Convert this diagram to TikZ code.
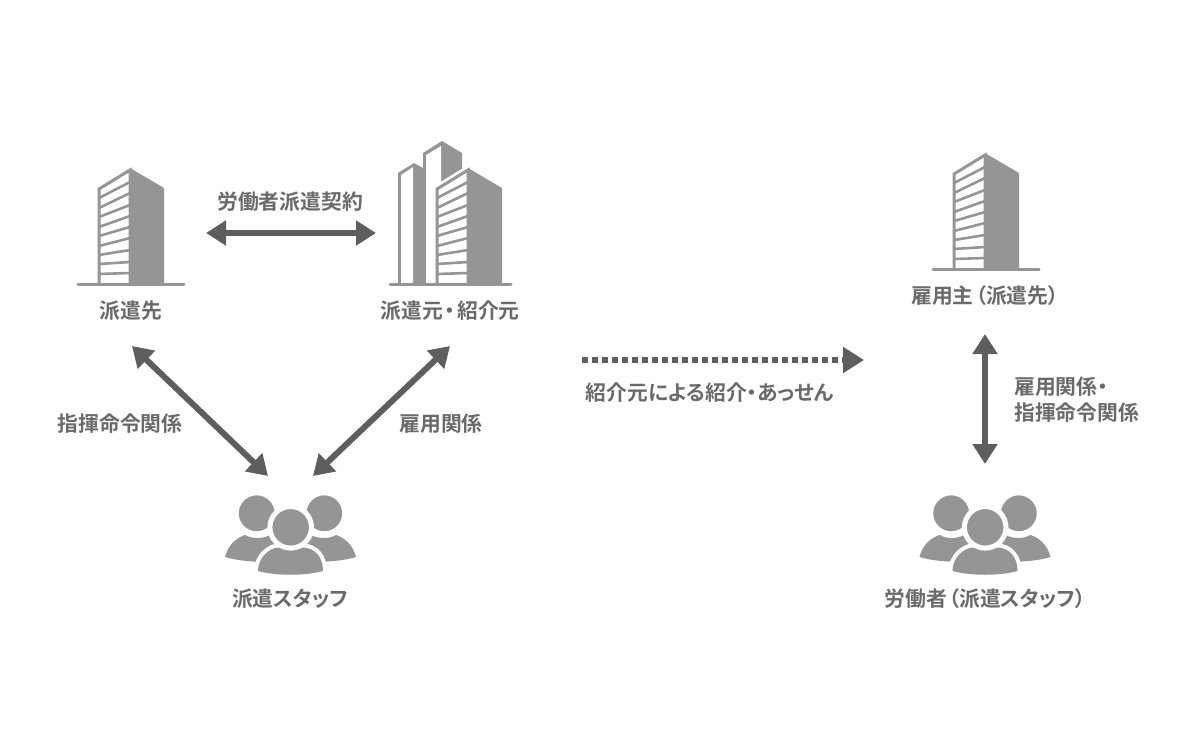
\documentclass[tikz,border=0pt]{standalone}
\usepackage{fontspec}
\usetikzlibrary{arrows.meta}
\setmainfont[RawFeature=+palt]{Noto Sans CJK JP Bold}
\definecolor{bgray}{HTML}{959596}
\definecolor{agray}{HTML}{5E5E5F}
\definecolor{tgray}{HTML}{6A6A6B}
\tikzset{
  x=1pt,y=-1pt,
  lbl/.style={text=tgray,font=\fontsize{20.8}{26}\selectfont,inner sep=0pt},
  dbl/.style={agray,line width=6pt,{Triangle[length=20pt,width=24pt]}-{Triangle[length=20pt,width=24pt]}},
  dotted arrow/.style={agray,line width=6pt,dash pattern=on 6pt off 4pt,-{Triangle[length=21pt,width=25pt]}},
  face/.style={fill=bgray,draw=none},
  slat/.style={bgray,line width=2.6pt},
  ground/.style={bgray,line width=3pt,line cap=round}
}
\newcommand{\tower}{%
  \fill[bgray] (130,168) -- (164,188) -- (164,284) -- (130,284) -- cycle;
  \draw[bgray,line width=3pt,line join=miter] (99,284) -- (99,189) -- (130,170) -- (130,284);
  \foreach \l/\r in {198/182,208/193,217/205,227/216,236/227,246/238,255/250,264/262,274/273}
    \draw[slat] (99,\l) -- (130,\r);
}
\newcommand{\crowd}{%
  \fill[bgray] (225,557) .. controls (228,545) and (236,538) .. (245,535) .. controls (252,539) and (262,539) .. (270,535) -- (290,560) -- (270,562) .. controls (255,562) and (238,561) .. (225,557) -- cycle;
  \fill[bgray] (356,557) .. controls (353,545) and (345,538) .. (336,535) .. controls (329,539) and (319,539) .. (311,535) -- (291,560) -- (311,562) .. controls (326,562) and (343,561) .. (356,557) -- cycle;
  \filldraw[bgray,draw=white,line width=2pt] (256.7,513.3) circle[radius=19];
  \filldraw[bgray,draw=white,line width=2pt] (324.3,513.3) circle[radius=19];
  \filldraw[bgray,draw=white,line width=8pt] (258,571) .. controls (258,557) and (270,548) .. (278,547.5) -- (303,547.5) .. controls (315,548) and (323,557) .. (323,571) .. controls (305,576) and (276,576) .. (258,571) -- cycle;
  \fill[bgray] (258,571) .. controls (258,557) and (270,548) .. (278,547.5) -- (303,547.5) .. controls (315,548) and (323,557) .. (323,571) .. controls (305,576) and (276,576) .. (258,571) -- cycle;
  \filldraw[bgray,draw=white,line width=5pt] (290.7,527.3) circle[radius=20.8];
}
\begin{document}
\begin{tikzpicture}
\useasboundingbox (0,0) rectangle (1200,750);
% left building
\tower
\draw[ground] (78,284.5) -- (184,284.5);
% building group
\fill[bgray] (398,284) -- (398,173) -- (414,163) -- (423,168) -- (423,153) -- (442,141) -- (462,153) -- (462,284) -- cycle;
\fill[white] (401,284) -- (401,175) -- (413,167) -- (413,284) -- cycle;
\fill[white] (426,284) -- (426,155) -- (441,146) -- (441,284) -- cycle;
\begin{scope}[shift={(338,0)}]
  \fill[white] (96,284) -- (96,186) -- (130,165) -- (132,284) -- cycle;
  \tower
\end{scope}
\draw[ground] (390,284.5) -- (511,284.5);
% right building
\begin{scope}[shift={(855,-15)}]
  \tower
  \draw[ground] (78,284.5) -- (184,284.5);
\end{scope}
% people
\crowd
\begin{scope}[shift={(694.5,0)}]
  \crowd
\end{scope}
% labels
\node[lbl] (contract) at (290,201.5) {労働者派遣契約};
\node[lbl] (dest) at (131,310.5) {派遣先};
\node[lbl] (source) at (450,310.5) {派遣元\kern2pt・\kern2pt紹介元};
\node[lbl] (employer) at (985,295.5) {雇用主\kern2pt（派遣先）};
\node[lbl] (staff) at (290,598.5) {派遣スタッフ};
\node[lbl] (worker) at (985,598.5) {労働者\kern2pt（派遣スタッフ）};
\node[lbl] (command) at (120,423.5) {指揮命令関係};
\node[lbl] (employ) at (441,423.5) {雇用関係};
\node[lbl] (intro) at (710,392.5) {紹介元による紹介・あっせん};
\node[lbl,anchor=west] (rel1) at (1014,386.5) {雇用関係・};
\node[lbl,anchor=west] (rel2) at (1014,412.5) {指揮命令関係};
% connector ends
\coordinate (a1) at (206,233);
\coordinate (a2) at (376,233);
\coordinate (b1) at (132,346);
\coordinate (b2) at (268,476);
\coordinate (c1) at (450,346);
\coordinate (c2) at (313,476);
\coordinate (d1) at (582,360);
\coordinate (d2) at (864,360);
\coordinate (e1) at (985,334);
\coordinate (e2) at (985,464);
\draw[dbl] (a1) -- (a2);
\draw[dbl] (b1) -- (b2);
\draw[dbl] (c1) -- (c2);
\draw[dotted arrow] (d1) -- (d2);
\draw[dbl] (e1) -- (e2);
\end{tikzpicture}
\end{document}
